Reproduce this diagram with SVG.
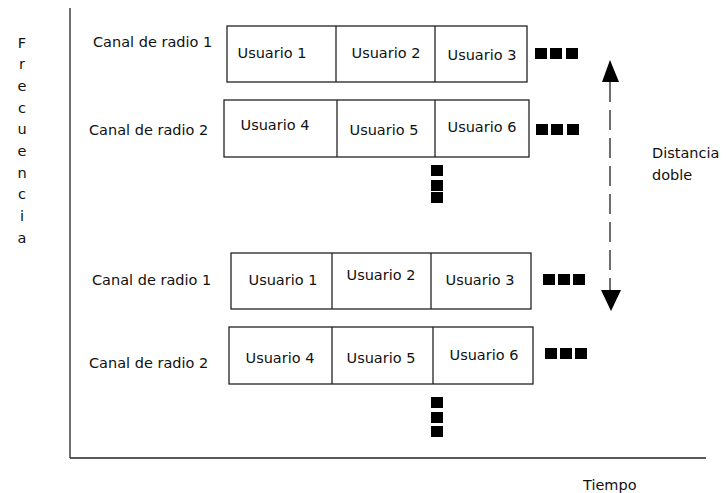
<svg xmlns="http://www.w3.org/2000/svg" width="726" height="493" viewBox="0 0 726 493">
<defs>
<style>
text{font-family:"DejaVu Sans","Liberation Sans",sans-serif;font-size:14.5px;fill:#111}
.box{fill:#fff;stroke:#222;stroke-width:1.3}
.ln{stroke:#222;stroke-width:1.3;fill:none}
.sq{fill:#000}
.mid{text-anchor:middle}
</style>
<marker id="ah" markerWidth="20" markerHeight="24" refX="10" refY="22" orient="auto-start-reverse" markerUnits="userSpaceOnUse" viewBox="0 0 20 24">
<path d="M1,0 L19,0 L10,22 Z" fill="#000"/>
</marker>
</defs>
<rect width="726" height="493" fill="#fff"/>
<g id="axes">
<line class="ln" x1="70" y1="8" x2="70" y2="458"/>
<line class="ln" x1="70" y1="458" x2="706" y2="458"/>
<g id="freq-label" class="mid">
<text x="22" y="48">F</text>
<text x="22" y="69">r</text>
<text x="22" y="91">e</text>
<text x="22" y="113">c</text>
<text x="22" y="134">u</text>
<text x="22" y="156">e</text>
<text x="22" y="178">n</text>
<text x="22" y="199">c</text>
<text x="22" y="221">i</text>
<text x="22" y="243">a</text>
</g>
<text id="tiempo" x="583" y="490">Tiempo</text>
</g>
<g id="top-ch1">
<text x="93" y="47">Canal de radio 1</text>
<rect class="box" x="227" y="26" width="300" height="56"/>
<line class="ln" x1="336" y1="26" x2="336" y2="82"/>
<line class="ln" x1="435" y1="26" x2="435" y2="82"/>
<text class="mid" x="272" y="58">Usuario 1</text>
<text class="mid" x="386" y="58">Usuario 2</text>
<text class="mid" x="482" y="60">Usuario 3</text>
<rect class="sq" x="535" y="48" width="12" height="11"/>
<rect class="sq" x="550" y="48" width="12" height="11"/>
<rect class="sq" x="566" y="48" width="12" height="11"/>
</g>
<g id="top-ch2">
<text x="89" y="135">Canal de radio 2</text>
<rect class="box" x="224" y="100" width="305" height="57"/>
<line class="ln" x1="337" y1="100" x2="337" y2="157"/>
<line class="ln" x1="435" y1="100" x2="435" y2="157"/>
<text class="mid" x="275" y="130">Usuario 4</text>
<text class="mid" x="384" y="135">Usuario 5</text>
<text class="mid" x="482" y="132">Usuario 6</text>
<rect class="sq" x="536" y="124" width="12" height="11"/>
<rect class="sq" x="551" y="124" width="12" height="11"/>
<rect class="sq" x="567" y="124" width="12" height="11"/>
<rect class="sq" x="431" y="165" width="12" height="11"/>
<rect class="sq" x="431" y="180" width="12" height="11"/>
<rect class="sq" x="431" y="192" width="12" height="11"/>
</g>
<g id="bot-ch1">
<text x="92" y="285">Canal de radio 1</text>
<rect class="box" x="231" y="253" width="300" height="56"/>
<line class="ln" x1="332" y1="253" x2="332" y2="309"/>
<line class="ln" x1="431" y1="253" x2="431" y2="309"/>
<text class="mid" x="283" y="285">Usuario 1</text>
<text class="mid" x="381" y="280">Usuario 2</text>
<text class="mid" x="480" y="285">Usuario 3</text>
<rect class="sq" x="543" y="274" width="12" height="11"/>
<rect class="sq" x="558" y="274" width="12" height="11"/>
<rect class="sq" x="573" y="274" width="12" height="11"/>
</g>
<g id="bot-ch2">
<text x="89" y="368">Canal de radio 2</text>
<rect class="box" x="229" y="327" width="304" height="57"/>
<line class="ln" x1="332" y1="327" x2="332" y2="384"/>
<line class="ln" x1="433" y1="327" x2="433" y2="384"/>
<text class="mid" x="280" y="363">Usuario 4</text>
<text class="mid" x="381" y="363">Usuario 5</text>
<text class="mid" x="484" y="360">Usuario 6</text>
<rect class="sq" x="545" y="348" width="12" height="11"/>
<rect class="sq" x="560" y="348" width="12" height="11"/>
<rect class="sq" x="575" y="348" width="12" height="11"/>
<rect class="sq" x="431" y="397" width="12" height="11"/>
<rect class="sq" x="431" y="412" width="12" height="11"/>
<rect class="sq" x="431" y="426" width="12" height="11"/>
</g>
<g id="connectors">
<line class="ln" x1="610" y1="82" x2="610" y2="290" stroke-dasharray="20 8"/>
<path d="M602,82 L619,82 L610,60 Z" fill="#000"/>
<path d="M601,290 L621,290 L611,311 Z" fill="#000"/>
</g>
<g id="distancia">
<text x="652" y="158">Distancia</text>
<text x="652" y="180">doble</text>
</g>
</svg>
